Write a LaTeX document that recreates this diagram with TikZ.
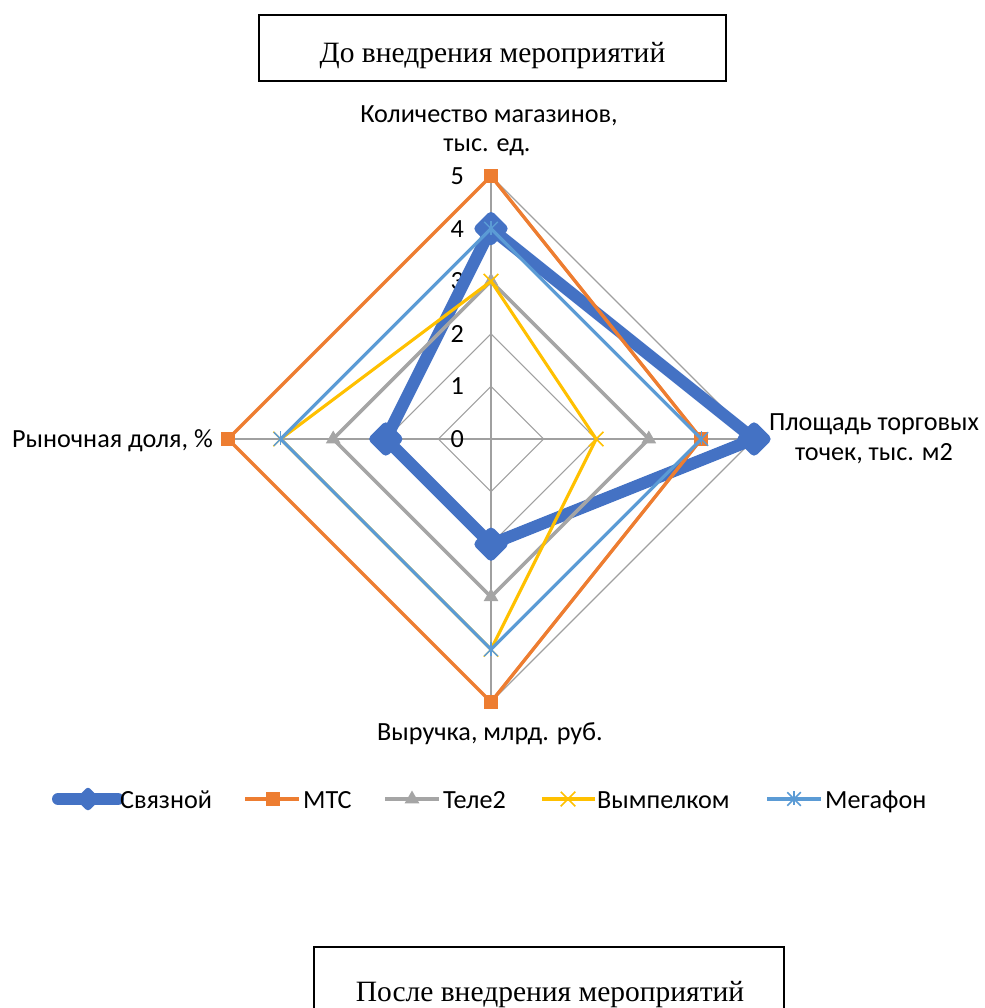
\documentclass[tikz,border=0pt]{standalone}
\usepackage{fontspec}
\setmainfont{Liberation Serif}
\newfontfamily\calfont{Carlito}
\usetikzlibrary{shapes.geometric,shapes.misc}
\definecolor{csv}{HTML}{4472C4}
\definecolor{cmts}{HTML}{ED7D31}
\definecolor{ctele}{HTML}{A5A5A5}
\definecolor{cvym}{HTML}{FFC000}
\definecolor{cmeg}{HTML}{5B9BD5}
\definecolor{cgrid}{HTML}{A0A0A0}
\begin{document}
\begin{tikzpicture}[x=1pt,y=-1pt,
  lbl/.style={font=\calfont\fontsize{26.2}{31}\selectfont, inner sep=0pt},
  ttl/.style={font=\fontsize{29.5}{34}\selectfont, inner sep=0pt, anchor=base},
  tbox/.style={draw=black, line width=1.5pt},
  gridd/.style={draw=cgrid, line width=1.1pt},
  spoke/.style={draw=cgrid, line width=1.6pt},
  svline/.style={draw=csv, line width=12pt, line join=round, line cap=round},
  mtsline/.style={draw=cmts, line width=3.4pt, line join=round},
  teleline/.style={draw=ctele, line width=3.5pt, line join=round},
  vymline/.style={draw=cvym, line width=3.1pt, line join=round},
  megline/.style={draw=cmeg, line width=3.1pt, line join=round},
  mkdia/.style={diamond, fill=csv, draw=csv, line width=9pt, line join=round, minimum size=28pt, inner sep=0pt},
  mkdiasmall/.style={diamond, fill=csv, draw=csv, line width=6pt, line join=round, minimum size=19pt, inner sep=0pt},
  mksq/.style={rectangle, fill=cmts, minimum size=14pt, inner sep=0pt},
  mktri/.style={regular polygon, regular polygon sides=3, fill=ctele, minimum size=17pt, inner sep=0pt},
  mkx/.style={cross out, draw=cvym, line width=1.5pt, minimum size=13pt, inner sep=0pt},
  mkast/.style={cross out, draw=cmeg, line width=1.5pt, minimum size=12pt, inner sep=0pt,
     append after command={(\tikzlastnode.north) ++(0,-1) edge[draw=cmeg, line width=1.5pt] ++(0,14)}},
]
\useasboundingbox (0,0) rectangle (984,1008);
\def\cx{491}\def\cy{439}\def\u{52.6}

% title boxes
\draw[tbox] (259,15) rectangle (726,81);
\node[ttl] (t1) at (492.5,63) {До внедрения мероприятий};
\draw[tbox] (314,1012) -- (314,947) -- (784,947) -- (784,1012);
\node[ttl] (t2) at (550,1001) {После внедрения мероприятий};

% grid
\foreach \r in {1,...,5}
  \draw[gridd] (\cx,\cy-\r*\u) -- (\cx+\r*\u,\cy) -- (\cx,\cy+\r*\u) -- (\cx-\r*\u,\cy) -- cycle;
\draw[spoke] (\cx,\cy-5*\u) -- (\cx,\cy+5*\u);
\draw[spoke] (\cx-5*\u,\cy) -- (\cx+5*\u,\cy);

% tick labels
\foreach \r in {0,...,5}
  \node[lbl, anchor=east] (tick\r) at (464,\cy-\r*\u) {\r};

% axis labels
\node[lbl, anchor=base] (ax1a) at (489,123) {Количество магазинов,};
\node[lbl, anchor=base] (ax1b) at (487,152) {тыс. ед.};
\node[lbl, anchor=base] (ax2a) at (874,430) {Площадь торговых};
\node[lbl, anchor=base] (ax2b) at (874,460) {точек, тыс. м2};
\node[lbl, anchor=base] (ax3) at (490,740) {Выручка, млрд. руб.};
\node[lbl, anchor=base east] (ax4) at (213,447) {Рыночная доля, \%};

% series points
\coordinate (sv1) at (\cx,\cy-4*\u); \coordinate (sv2) at (\cx+5*\u,\cy);
\coordinate (sv3) at (\cx,\cy+2*\u); \coordinate (sv4) at (\cx-2*\u,\cy);
\coordinate (mt1) at (\cx,\cy-5*\u); \coordinate (mt2) at (\cx+4*\u,\cy);
\coordinate (mt3) at (\cx,\cy+5*\u); \coordinate (mt4) at (\cx-5*\u,\cy);
\coordinate (te1) at (\cx,\cy-3*\u); \coordinate (te2) at (\cx+3*\u,\cy);
\coordinate (te3) at (\cx,\cy+3*\u); \coordinate (te4) at (\cx-3*\u,\cy);
\coordinate (vy1) at (\cx,\cy-3*\u); \coordinate (vy2) at (\cx+2*\u,\cy);
\coordinate (vy3) at (\cx,\cy+4*\u); \coordinate (vy4) at (\cx-4*\u,\cy);
\coordinate (mg1) at (\cx,\cy-4*\u); \coordinate (mg2) at (\cx+4*\u,\cy);
\coordinate (mg3) at (\cx,\cy+4*\u); \coordinate (mg4) at (\cx-4*\u,\cy);

% Связной
\draw[svline] (sv1) -- (sv2) -- (sv3) -- (sv4) -- cycle;
\foreach \i in {1,...,4} \node[mkdia] (svm\i) at (sv\i) {};
% МТС
\draw[mtsline] (mt1) -- (mt2) -- (mt3) -- (mt4) -- cycle;
\foreach \i in {1,...,4} \node[mksq] (mtm\i) at (mt\i) {};
% Теле2
\draw[teleline] (te1) -- (te2) -- (te3) -- (te4) -- cycle;
\foreach \i in {1,...,4} \node[mktri] (tem\i) at (te\i) {};
% Вымпелком
\draw[vymline] (vy1) -- (vy2) -- (vy3) -- (vy4) -- cycle;
\foreach \i in {1,...,4} \node[mkx] (vym\i) at (vy\i) {};
% Мегафон
\draw[megline] (mg1) -- (mg2) -- (mg3) -- (mg4) -- cycle;
\foreach \i in {1,...,4} \node[mkast] (mgm\i) at (mg\i) {};

% legend
\coordinate (l1a) at (58,799); \coordinate (l1b) at (118,799);
\draw[svline] (l1a) -- (l1b);
\node[mkdiasmall] (l1m) at (88,799) {};
\node[lbl, anchor=base west] (l1t) at (120,808) {Связной};

\coordinate (l2a) at (245,799); \coordinate (l2b) at (299,799);
\draw[mtsline] (l2a) -- (l2b);
\node[mksq] (l2m) at (273,799) {};
\node[lbl, anchor=base west] (l2t) at (303,808) {МТС};

\coordinate (l3a) at (385,799); \coordinate (l3b) at (439,799);
\draw[teleline] (l3a) -- (l3b);
\node[mktri] (l3m) at (412,799) {};
\node[lbl, anchor=base west] (l3t) at (443,808) {Теле2};

\coordinate (l4a) at (542,799); \coordinate (l4b) at (595,799);
\draw[vymline] (l4a) -- (l4b);
\node[mkx] (l4m) at (568,799) {};
\node[lbl, anchor=base west] (l4t) at (597,808) {Вымпелком};

\coordinate (l5a) at (767,799); \coordinate (l5b) at (821,799);
\draw[megline] (l5a) -- (l5b);
\node[mkast] (l5m) at (794,799) {};
\node[lbl, anchor=base west] (l5t) at (825,808) {Мегафон};
\end{tikzpicture}
\end{document}
